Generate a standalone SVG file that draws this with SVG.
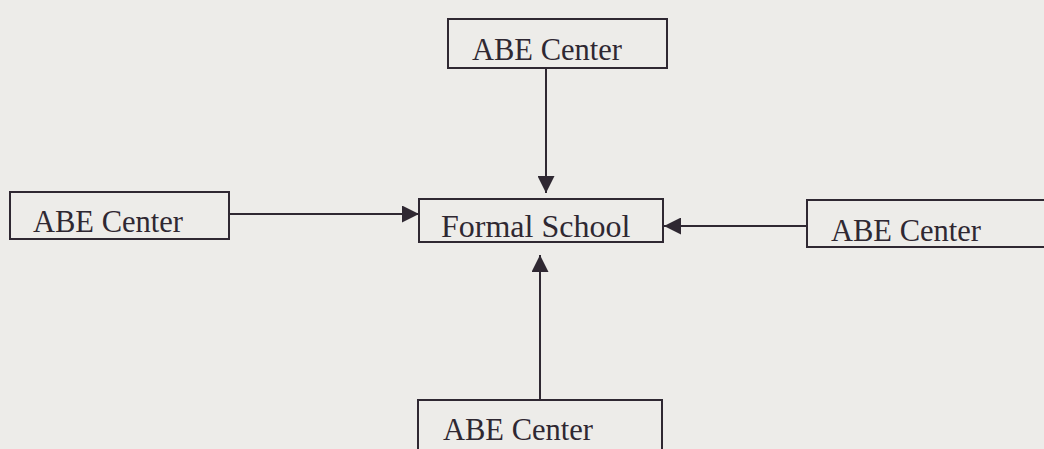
<svg xmlns="http://www.w3.org/2000/svg" width="1044" height="449" viewBox="0 0 1044 449">
<defs>
<style>
.box{fill:none;stroke:#2f2832;stroke-width:2}
.lbl{font-family:"Liberation Serif","Times New Roman",serif;font-size:30.5px;fill:#2f2832}
.con{stroke:#2f2832;stroke-width:2;fill:none}
</style>
<marker id="ah" viewBox="0 0 10 10" refX="10" refY="5" markerWidth="19" markerHeight="17" markerUnits="userSpaceOnUse" orient="auto">
<path d="M0,0 L10,5 L0,10 z" fill="#2f2832"/>
</marker>
</defs>
<rect width="1044" height="449" fill="#edece9"/>
<g id="connectors">
<line class="con" x1="546" y1="69" x2="546" y2="193" marker-end="url(#ah)"/>
<line class="con" x1="229" y1="214" x2="419" y2="214" marker-end="url(#ah)"/>
<line class="con" x1="807" y1="226" x2="664" y2="226" marker-end="url(#ah)"/>
<line class="con" x1="540" y1="400" x2="540" y2="255" marker-end="url(#ah)"/>
</g>
<g id="top">
<rect class="box" x="448" y="19" width="219" height="49"/>
<text class="lbl" x="472" y="60">ABE Center</text>
</g>
<g id="left">
<rect class="box" x="10" y="192" width="219" height="47"/>
<text class="lbl" x="33" y="232">ABE Center</text>
</g>
<g id="center">
<rect class="box" x="419" y="199" width="244" height="43"/>
<text class="lbl" x="441" y="237" style="font-size:32px">Formal School</text>
</g>
<g id="right">
<rect class="box" x="807" y="200" width="250" height="47"/>
<text class="lbl" x="831" y="241">ABE  Center</text>
</g>
<g id="bottom">
<rect class="box" x="418" y="400" width="244" height="60"/>
<text class="lbl" x="443" y="440">ABE Center</text>
</g>
</svg>
